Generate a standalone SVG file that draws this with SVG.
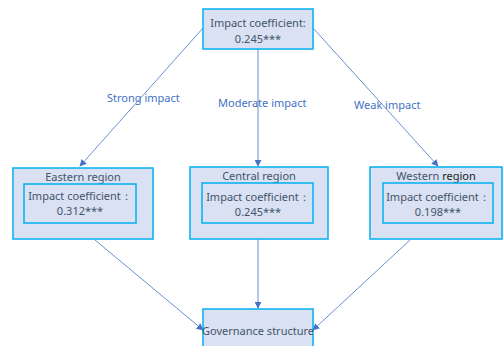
<svg xmlns="http://www.w3.org/2000/svg" width="504" height="346" viewBox="0 0 504 346">
<style>
.box{fill:#D9E1F2;stroke:#00B0F0;stroke-width:1.5}
.t{font-family:"Noto Sans","Liberation Sans",sans-serif;font-size:11px;fill:#44546A;text-anchor:middle}
.lbl{font-family:"Noto Sans","Liberation Sans",sans-serif;font-size:11px;fill:#4472C4}
.c{stroke:#4472C4;stroke-width:0.8;fill:none;marker-end:url(#a)}
</style>
<defs>
<marker id="a" viewBox="0 0 10 10" refX="9" refY="5" markerWidth="7" markerHeight="7" markerUnits="userSpaceOnUse" orient="auto">
<path d="M0,0 L10,5 L0,10 z" fill="#4472C4"/>
</marker>
</defs>
<rect width="504" height="346" fill="#fff"/>
<g id="connectors">
<line class="c" x1="203" y1="28" x2="80" y2="166"/>
<line class="c" x1="258" y1="49" x2="258" y2="166"/>
<line class="c" x1="313" y1="28" x2="438" y2="166"/>
<line class="c" x1="95" y1="240" x2="203" y2="330"/>
<line class="c" x1="258" y1="223" x2="258" y2="308"/>
<line class="c" x1="410" y1="240" x2="313" y2="330"/>
</g>
<g id="labels">
<text class="lbl" x="107" y="102">Strong impact</text>
<text class="lbl" x="218" y="107">Moderate impact</text>
<text class="lbl" x="354" y="109">Weak impact</text>
</g>
<g id="top">
<rect class="box" x="203" y="9" width="110" height="40"/>
<text class="t" x="258" y="27">Impact coefficient:</text>
<text class="t" x="258" y="43">0.245***</text>
</g>
<g id="eastern">
<rect class="box" x="13" y="168" width="140" height="71"/>
<text class="t" x="83" y="181">Eastern region</text>
<rect class="box" x="24" y="184" width="112" height="39"/>
<text class="t" x="80" y="200">Impact coefficient：</text>
<text class="t" x="80" y="215">0.312***</text>
</g>
<g id="central">
<rect class="box" x="190" y="167" width="138" height="72"/>
<text class="t" x="259" y="180">Central region</text>
<rect class="box" x="202" y="183" width="111" height="40"/>
<text class="t" x="258" y="201">Impact coefficient：</text>
<text class="t" x="258" y="216">0.245***</text>
</g>
<g id="western">
<rect class="box" x="370" y="167" width="132" height="72"/>
<text class="t" x="436" y="180">Western <tspan fill="#222">region</tspan></text>
<rect class="box" x="383" y="183" width="110" height="40"/>
<text class="t" x="438" y="201">Impact coefficient：</text>
<text class="t" x="438" y="216">0.198***</text>
</g>
<g id="governance">
<rect class="box" x="203" y="309" width="110" height="45"/>
<text class="t" x="258" y="335">Governance structure</text>
</g>
</svg>
